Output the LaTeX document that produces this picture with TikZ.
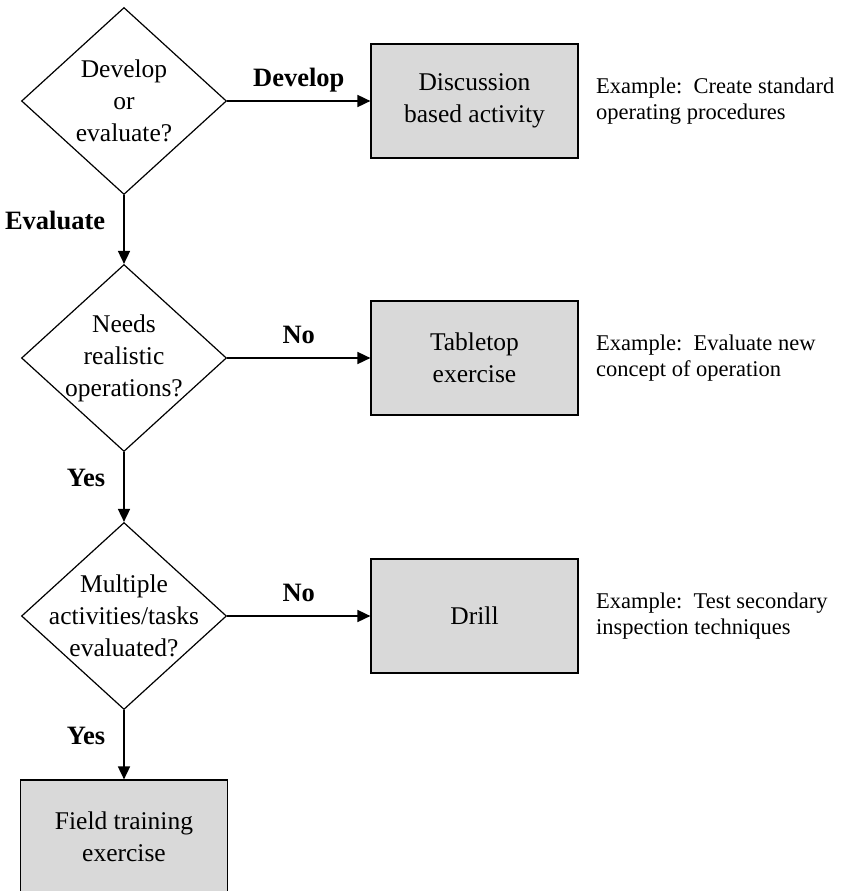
\documentclass[tikz,border=0pt]{standalone}
\usepackage{fontspec}
\setmainfont{Liberation Serif}
\usetikzlibrary{arrows.meta}
\usetikzlibrary{shapes.geometric}

\begin{document}
\begin{tikzpicture}[x=1pt, y=-1pt,
	decision/.style = {draw, diamond, line width=1.2pt, minimum width=205pt,
	                   minimum height=187pt, inner sep=0pt},
	qtext/.style = {align=center, font=\fontsize{25.5}{32}\selectfont},
	activity/.style = {draw, line width=1.2pt, fill={black!15}, minimum width=207pt,
	                   minimum height=114pt, align=center, font=\fontsize{25.5}{32}\selectfont},
	note/.style = {anchor=west, align=left, inner sep=0pt, font=\fontsize{22.5}{25.5}\selectfont},
	flow/.style = {line width=1.7pt, -{Triangle[length=13pt,width=12pt]}},
	answer/.style = {inner sep=0pt, font=\fontsize{26.5}{30}\selectfont\bfseries}]
		\useasboundingbox (0,0) rectangle (842,891);
		\node[decision, label={[qtext]center:{Develop\\or\\evaluate?}}] (devq) at (124,101) {};
		\node[decision, label={[qtext]center:{Needs\\realistic\\operations?}}] (realq) at (124,358) {};
		\node[decision, label={[qtext]center:{Multiple\\activities/tasks\\evaluated?}}] (multq) at (124,616) {};
		\node[activity] (disc) at (474.5,101) {Discussion\\based activity};
		\node[activity] (table) at (474.5,358) {Tabletop\\exercise};
		\node[activity] (drill) at (474.5,616) {Drill};
		\node[activity] (field) at (124,837) {Field training\\exercise};
		\node[note] (discex) at (596,101) {Example:\ \ Create standard\\operating procedures};
		\node[note] (tableex) at (596,358) {Example:\ \ Evaluate new\\concept of operation};
		\node[note] (drillex) at (596,616) {Example:\ \ Test secondary\\inspection techniques};
		\draw[flow] (devq.east) -- (disc.west)
			node[answer, midway, anchor=base, yshift=15pt] {Develop};
		\draw[flow] (devq.south) -- (realq.north)
			node[answer, midway, anchor=east, xshift=-18pt, yshift=9pt] {Evaluate};
		\draw[flow] (realq.east) -- (table.west)
			node[answer, midway, anchor=base, yshift=15pt] {No};
		\draw[flow] (realq.south) -- (multq.north)
			node[answer, midway, anchor=east, xshift=-18pt, yshift=9pt] {Yes};
		\draw[flow] (multq.east) -- (drill.west)
			node[answer, midway, anchor=base, yshift=15pt] {No};
		\draw[flow] (multq.south) -- (field.north)
			node[answer, midway, anchor=east, xshift=-18pt, yshift=9pt] {Yes};
\end{tikzpicture}
\end{document}
